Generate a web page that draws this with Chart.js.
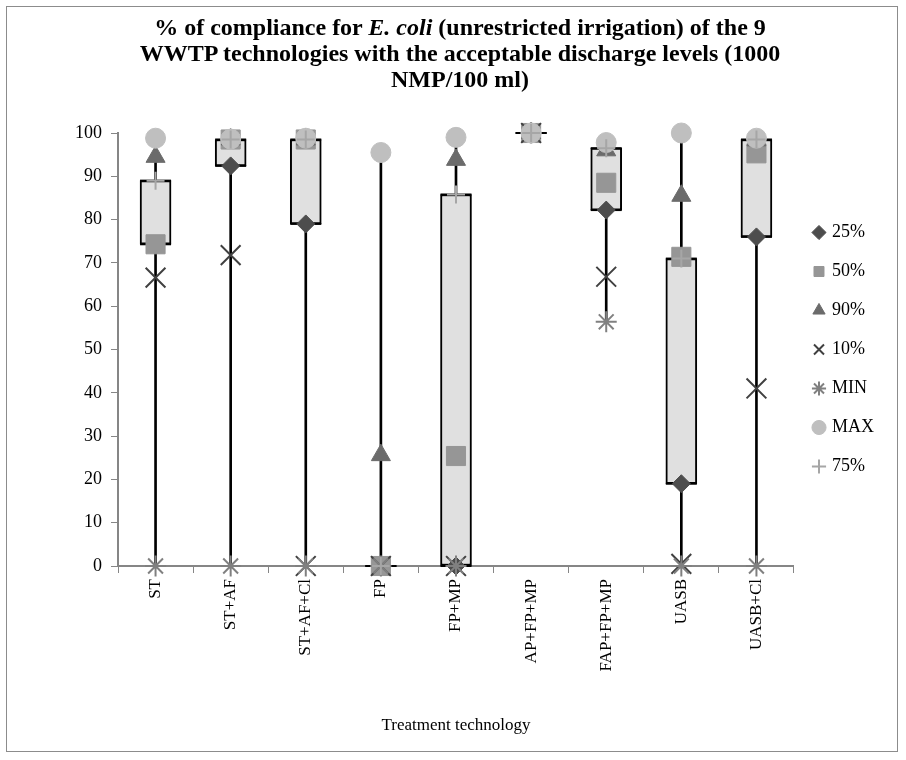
<!DOCTYPE html>
<html><head><meta charset="utf-8">
<script src="https://cdn.jsdelivr.net/npm/chart.js@4/dist/chart.umd.min.js"></script>
<style>
html,body{margin:0;padding:0;background:#fff;}
#wrap{position:relative;width:906px;height:760px;overflow:hidden;}
#frame{position:absolute;left:6px;top:6px;width:890px;height:744px;border:1px solid #8c8c8c;pointer-events:none;}
#title{position:absolute;left:0;top:14px;width:920px;text-align:center;font:bold 24px "Liberation Serif","Times New Roman",serif;line-height:26px;color:#000;}
canvas{position:absolute;left:0;top:0;}
</style></head>
<body><div id="wrap"><canvas id="c" width="906" height="760"></canvas><div id="frame"></div>
<div id="title">% of compliance for <i>E. coli</i> (unrestricted irrigation) of the 9<br>WWTP technologies with the acceptable discharge levels (1000<br>NMP/100 ml)</div></div>
<script>
const categories = ['ST','ST+AF','ST+AF+Cl','FP','FP+MP','AP+FP+MP','FAP+FP+MP','UASB','UASB+Cl'];
const p25 = [74.3, 92.4, 79.0, 0, 0, 100, 82.2, 19.0, 76.0];
const p50 = [74.3, 98.5, 98.5, 0, 25.4, 100, 88.5, 71.4, 95.3];
const p90 = [94.5, 98.5, 98.5, 25.6, 93.8, 100, 96.0, 85.5, 98.3];
const p10 = [66.6, 71.8, 0, 0, 0, 100, 66.8, 0.5, 41.0];
const pMin = [0, 0, 0, 0, 0, 100, 56.4, 0, 0];
const pMax = [98.8, 98.6, 98.8, 95.5, 99.0, 100, 97.8, 100, 98.8];
const p75 = [89.0, 98.5, 98.5, 0, 85.8, 100, 96.5, 71.0, 98.5];
const yTicks = [0,10,20,30,40,50,60,70,80,90,100];

const serif = '"Liberation Serif","Times New Roman",serif';
const whisker = categories.map((c,i)=>[pMin[i], pMax[i]]);
const box = categories.map((c,i)=>[p25[i], p75[i]]);

function marker(label, data, style, r, color, bw, order){
  return {type:'line', label, data, showLine:false, pointStyle:style, pointRadius:r, clip:false,
    backgroundColor:color, borderColor:color, pointBackgroundColor:color, pointBorderColor:color,
    borderWidth:bw, pointBorderWidth:bw, order, pointHoverRadius:r};
}

new Chart(document.getElementById('c'), {
  type:'bar',
  data:{
    labels:categories,
    datasets:[
      {type:'bar', label:'whisker', data:whisker, backgroundColor:'#000', barThickness:2, grouped:false, order:20, clip:false},
      {type:'bar', label:'box', data:box, backgroundColor:'#e0e0e0', borderColor:'#000', borderWidth:2, borderSkipped:false, barThickness:31, grouped:false, order:19, clip:false},
      {type:'line', label:'edgeLow', data:p25, showLine:false, pointStyle:'line', pointRadius:15.5, pointBorderColor:'#000', borderColor:'#000', pointBorderWidth:2, borderWidth:2, order:18, clip:false},
      {type:'line', label:'edgeHigh', data:p75, showLine:false, pointStyle:'line', pointRadius:15.5, pointBorderColor:'#000', borderColor:'#000', pointBorderWidth:2, borderWidth:2, order:18, clip:false},
      marker('25%', p25, 'rectRot', 9, '#4d4d4d', 1, 7),
      marker('50%', p50, 'rect', 13.5, '#969696', 1, 6),
      marker('90%', p90, 'triangle', 11, '#6b6b6b', 1, 5),
      marker('10%', p10, 'crossRot', 14, '#404040', 2, 4),
      marker('MIN', pMin, 'star', 10.5, '#808080', 2, 3),
      marker('MAX', pMax, 'circle', 10, '#bfbfbf', 1, 2),
      marker('75%', p75, 'cross', 9, '#a6a6a6', 2, 1)
    ]
  },
  options:{
    responsive:false, animation:false,
    layout:{padding:{top:133, left:4, right:22, bottom:14}},
    plugins:{
      tooltip:{enabled:false},
      title:{display:false},
      legend:{
        position:'right', align:'center', fullSize:false,
        labels:{
          usePointStyle:true, boxWidth:8, boxHeight:10, padding:21, color:'#000',
          font:{family:serif, size:18},
          filter:(item)=>['25%','50%','90%','10%','MIN','MAX','75%'].includes(item.text),
          sort:(a,b)=>a.datasetIndex-b.datasetIndex
        }
      }
    },
    scales:{
      x:{
        offset:true,
        grid:{display:true, offset:true, drawOnChartArea:false, drawTicks:true, tickLength:7, color:'#868686', lineWidth:1},
        border:{display:true, color:'#868686', width:2},
        ticks:{autoSkip:false, minRotation:90, maxRotation:90, color:'#000', font:{family:serif, size:17}, padding:6},
        title:{display:true, text:'Treatment technology', color:'#000', font:{family:serif, size:17}, padding:{top:4, bottom:10}},
        afterFit:(s)=>{ s.height = 180; }
      },
      y:{
        min:0, max:100,
        afterBuildTicks:(s)=>{ s.ticks = yTicks.map(v=>({value:v})); },
        grid:{display:true, drawOnChartArea:false, drawTicks:true, tickLength:7, color:'#868686', lineWidth:1},
        border:{display:true, color:'#868686', width:2},
        ticks:{color:'#000', font:{family:serif, size:18}, padding:9},
        afterFit:(s)=>{ s.width = 114; }
      }
    }
  }
});
</script>
</body></html>
